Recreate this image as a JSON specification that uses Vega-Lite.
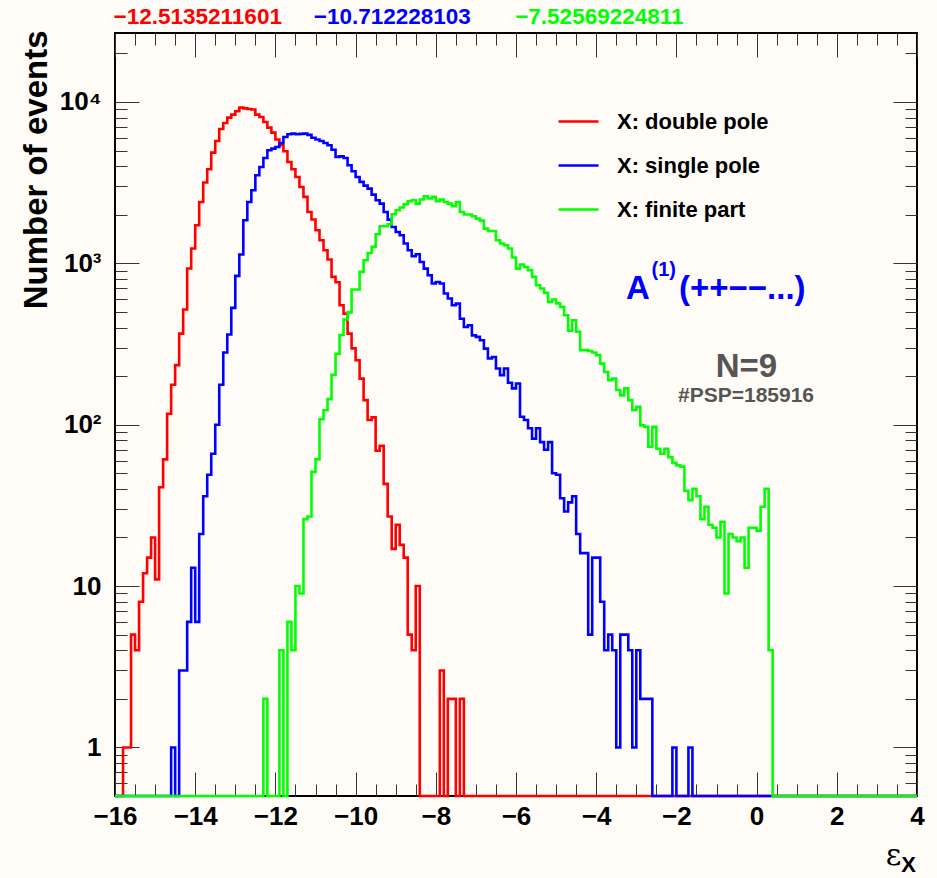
{
  "$schema": "https://vega.github.io/schema/vega-lite/v6.json",
  "width": 802,
  "height": 763,
  "autosize": {"type": "none"},
  "padding": {"left": 115, "top": 33, "right": 20, "bottom": 82},
  "background": "#fffcf8",
  "config": {
    "view": {"stroke": "#000000", "strokeWidth": 2},
    "font": "Liberation Sans",
    "axis": {"grid": false, "domain": false}
  },
  "datasets": {
    "h": [
      {"s":"dp","x":-16,"n":0},{"s":"dp","x":-15.8,"n":1},{"s":"dp","x":-15.7,"n":1},{"s":"dp","x":-15.6,"n":5},{"s":"dp","x":-15.5,"n":4},{"s":"dp","x":-15.4,"n":8},{"s":"dp","x":-15.3,"n":12},{"s":"dp","x":-15.2,"n":15},{"s":"dp","x":-15.1,"n":20},{"s":"dp","x":-15.0,"n":11},{"s":"dp","x":-14.9,"n":41},{"s":"dp","x":-14.8,"n":61},{"s":"dp","x":-14.7,"n":117},{"s":"dp","x":-14.6,"n":177},{"s":"dp","x":-14.5,"n":234},{"s":"dp","x":-14.4,"n":367},{"s":"dp","x":-14.3,"n":517},{"s":"dp","x":-14.2,"n":929},{"s":"dp","x":-14.1,"n":1235},{"s":"dp","x":-14.0,"n":1722},{"s":"dp","x":-13.9,"n":2400},{"s":"dp","x":-13.8,"n":3168},{"s":"dp","x":-13.7,"n":3830},{"s":"dp","x":-13.6,"n":4857},{"s":"dp","x":-13.5,"n":5730},{"s":"dp","x":-13.4,"n":6800},{"s":"dp","x":-13.3,"n":7410},{"s":"dp","x":-13.2,"n":8000},{"s":"dp","x":-13.1,"n":8350},{"s":"dp","x":-13.0,"n":8760},{"s":"dp","x":-12.9,"n":9230},{"s":"dp","x":-12.8,"n":9130},{"s":"dp","x":-12.7,"n":9040},{"s":"dp","x":-12.6,"n":8990},{"s":"dp","x":-12.5,"n":8350},{"s":"dp","x":-12.4,"n":8070},{"s":"dp","x":-12.3,"n":7510},{"s":"dp","x":-12.2,"n":6940},{"s":"dp","x":-12.1,"n":6460},{"s":"dp","x":-12.0,"n":5850},{"s":"dp","x":-11.9,"n":5390},{"s":"dp","x":-11.8,"n":4950},{"s":"dp","x":-11.7,"n":4250},{"s":"dp","x":-11.6,"n":3830},{"s":"dp","x":-11.5,"n":3430},{"s":"dp","x":-11.4,"n":2975},{"s":"dp","x":-11.3,"n":2580},{"s":"dp","x":-11.2,"n":2080},{"s":"dp","x":-11.1,"n":1868},{"s":"dp","x":-11.0,"n":1603},{"s":"dp","x":-10.9,"n":1390},{"s":"dp","x":-10.8,"n":1205},{"s":"dp","x":-10.7,"n":1056},{"s":"dp","x":-10.6,"n":824},{"s":"dp","x":-10.5,"n":764},{"s":"dp","x":-10.4,"n":550},{"s":"dp","x":-10.3,"n":488},{"s":"dp","x":-10.2,"n":367},{"s":"dp","x":-10.1,"n":297},{"s":"dp","x":-10.0,"n":251},{"s":"dp","x":-9.9,"n":193},{"s":"dp","x":-9.8,"n":142},{"s":"dp","x":-9.7,"n":107},{"s":"dp","x":-9.6,"n":111},{"s":"dp","x":-9.5,"n":69},{"s":"dp","x":-9.4,"n":74},{"s":"dp","x":-9.3,"n":43},{"s":"dp","x":-9.2,"n":27},{"s":"dp","x":-9.1,"n":17},{"s":"dp","x":-9.0,"n":24},{"s":"dp","x":-8.9,"n":18},{"s":"dp","x":-8.8,"n":15},{"s":"dp","x":-8.7,"n":5},{"s":"dp","x":-8.6,"n":4},{"s":"dp","x":-8.5,"n":10},{"s":"dp","x":-8.4,"n":0},{"s":"dp","x":-7.9,"n":3},{"s":"dp","x":-7.8,"n":0},{"s":"dp","x":-7.7,"n":2},{"s":"dp","x":-7.6,"n":2},{"s":"dp","x":-7.5,"n":0},{"s":"dp","x":-7.4,"n":2},{"s":"dp","x":-7.3,"n":0},{"s":"dp","x":4,"n":0},

      {"s":"sp","x":-16,"n":0},{"s":"sp","x":-14.6,"n":1},{"s":"sp","x":-14.5,"n":0},{"s":"sp","x":-14.4,"n":3},{"s":"sp","x":-14.3,"n":3},{"s":"sp","x":-14.2,"n":6},{"s":"sp","x":-14.1,"n":13},{"s":"sp","x":-14.0,"n":6},{"s":"sp","x":-13.9,"n":21},{"s":"sp","x":-13.8,"n":36},{"s":"sp","x":-13.7,"n":49},{"s":"sp","x":-13.6,"n":66},{"s":"sp","x":-13.5,"n":100},{"s":"sp","x":-13.4,"n":177},{"s":"sp","x":-13.3,"n":280},{"s":"sp","x":-13.2,"n":362},{"s":"sp","x":-13.1,"n":530},{"s":"sp","x":-13.0,"n":836},{"s":"sp","x":-12.9,"n":1134},{"s":"sp","x":-12.8,"n":1850},{"s":"sp","x":-12.7,"n":2400},{"s":"sp","x":-12.6,"n":2837},{"s":"sp","x":-12.5,"n":3515},{"s":"sp","x":-12.4,"n":3955},{"s":"sp","x":-12.3,"n":4500},{"s":"sp","x":-12.2,"n":5020},{"s":"sp","x":-12.1,"n":5140},{"s":"sp","x":-12.0,"n":5265},{"s":"sp","x":-11.9,"n":5570},{"s":"sp","x":-11.8,"n":6070},{"s":"sp","x":-11.7,"n":6310},{"s":"sp","x":-11.6,"n":6370},{"s":"sp","x":-11.5,"n":6310},{"s":"sp","x":-11.4,"n":6340},{"s":"sp","x":-11.3,"n":6370},{"s":"sp","x":-11.2,"n":6250},{"s":"sp","x":-11.1,"n":6000},{"s":"sp","x":-11.0,"n":5850},{"s":"sp","x":-10.9,"n":5730},{"s":"sp","x":-10.8,"n":5570},{"s":"sp","x":-10.7,"n":5390},{"s":"sp","x":-10.6,"n":5060},{"s":"sp","x":-10.5,"n":4570},{"s":"sp","x":-10.4,"n":4600},{"s":"sp","x":-10.3,"n":4500},{"s":"sp","x":-10.2,"n":4054},{"s":"sp","x":-10.1,"n":3720},{"s":"sp","x":-10.0,"n":3430},{"s":"sp","x":-9.9,"n":3200},{"s":"sp","x":-9.8,"n":3030},{"s":"sp","x":-9.7,"n":2905},{"s":"sp","x":-9.6,"n":2667},{"s":"sp","x":-9.5,"n":2460},{"s":"sp","x":-9.4,"n":2345},{"s":"sp","x":-9.3,"n":2080},{"s":"sp","x":-9.2,"n":1866},{"s":"sp","x":-9.1,"n":1681},{"s":"sp","x":-9.0,"n":1565},{"s":"sp","x":-8.9,"n":1493},{"s":"sp","x":-8.8,"n":1327},{"s":"sp","x":-8.7,"n":1205},{"s":"sp","x":-8.6,"n":1107},{"s":"sp","x":-8.5,"n":1138},{"s":"sp","x":-8.4,"n":1020},{"s":"sp","x":-8.3,"n":928},{"s":"sp","x":-8.2,"n":844},{"s":"sp","x":-8.1,"n":750},{"s":"sp","x":-8.0,"n":767},{"s":"sp","x":-7.9,"n":750},{"s":"sp","x":-7.8,"n":650},{"s":"sp","x":-7.7,"n":605},{"s":"sp","x":-7.6,"n":550},{"s":"sp","x":-7.5,"n":563},{"s":"sp","x":-7.4,"n":454},{"s":"sp","x":-7.3,"n":403},{"s":"sp","x":-7.2,"n":413},{"s":"sp","x":-7.1,"n":358},{"s":"sp","x":-7.0,"n":350},{"s":"sp","x":-6.9,"n":334},{"s":"sp","x":-6.8,"n":296},{"s":"sp","x":-6.7,"n":257},{"s":"sp","x":-6.6,"n":263},{"s":"sp","x":-6.5,"n":223},{"s":"sp","x":-6.4,"n":203},{"s":"sp","x":-6.3,"n":223},{"s":"sp","x":-6.2,"n":182},{"s":"sp","x":-6.1,"n":168},{"s":"sp","x":-6.0,"n":180},{"s":"sp","x":-5.9,"n":112},{"s":"sp","x":-5.8,"n":107},{"s":"sp","x":-5.7,"n":95},{"s":"sp","x":-5.6,"n":82},{"s":"sp","x":-5.5,"n":95},{"s":"sp","x":-5.4,"n":78},{"s":"sp","x":-5.3,"n":70},{"s":"sp","x":-5.2,"n":78},{"s":"sp","x":-5.1,"n":50},{"s":"sp","x":-5.0,"n":49},{"s":"sp","x":-4.9,"n":35},{"s":"sp","x":-4.8,"n":29},{"s":"sp","x":-4.7,"n":33},{"s":"sp","x":-4.6,"n":36},{"s":"sp","x":-4.5,"n":21},{"s":"sp","x":-4.4,"n":16},{"s":"sp","x":-4.3,"n":16},{"s":"sp","x":-4.2,"n":5},{"s":"sp","x":-4.1,"n":15},{"s":"sp","x":-4.0,"n":15},{"s":"sp","x":-3.9,"n":8},{"s":"sp","x":-3.8,"n":4},{"s":"sp","x":-3.7,"n":5},{"s":"sp","x":-3.6,"n":4},{"s":"sp","x":-3.5,"n":1},{"s":"sp","x":-3.4,"n":5},{"s":"sp","x":-3.3,"n":5},{"s":"sp","x":-3.2,"n":4},{"s":"sp","x":-3.1,"n":1},{"s":"sp","x":-3.0,"n":4},{"s":"sp","x":-2.9,"n":2},{"s":"sp","x":-2.8,"n":2},{"s":"sp","x":-2.7,"n":2},{"s":"sp","x":-2.6,"n":0},{"s":"sp","x":-2.1,"n":1},{"s":"sp","x":-2.0,"n":0},{"s":"sp","x":-1.7,"n":1},{"s":"sp","x":-1.6,"n":0},{"s":"sp","x":4,"n":0},

      {"s":"fp","x":-16,"n":0},{"s":"fp","x":-12.3,"n":2},{"s":"fp","x":-12.2,"n":0},{"s":"fp","x":-11.9,"n":4},{"s":"fp","x":-11.8,"n":0},{"s":"fp","x":-11.7,"n":6},{"s":"fp","x":-11.6,"n":4},{"s":"fp","x":-11.5,"n":10},{"s":"fp","x":-11.4,"n":9},{"s":"fp","x":-11.3,"n":26},{"s":"fp","x":-11.2,"n":27},{"s":"fp","x":-11.1,"n":51},{"s":"fp","x":-11.0,"n":61},{"s":"fp","x":-10.9,"n":108},{"s":"fp","x":-10.8,"n":123},{"s":"fp","x":-10.7,"n":144},{"s":"fp","x":-10.6,"n":204},{"s":"fp","x":-10.5,"n":275},{"s":"fp","x":-10.4,"n":360},{"s":"fp","x":-10.3,"n":449},{"s":"fp","x":-10.2,"n":497},{"s":"fp","x":-10.1,"n":688},{"s":"fp","x":-10.0,"n":688},{"s":"fp","x":-9.9,"n":885},{"s":"fp","x":-9.8,"n":1045},{"s":"fp","x":-9.7,"n":1160},{"s":"fp","x":-9.6,"n":1264},{"s":"fp","x":-9.5,"n":1514},{"s":"fp","x":-9.4,"n":1698},{"s":"fp","x":-9.3,"n":1698},{"s":"fp","x":-9.2,"n":1748},{"s":"fp","x":-9.1,"n":2015},{"s":"fp","x":-9.0,"n":2133},{"s":"fp","x":-8.9,"n":2217},{"s":"fp","x":-8.8,"n":2323},{"s":"fp","x":-8.7,"n":2425},{"s":"fp","x":-8.6,"n":2460},{"s":"fp","x":-8.5,"n":2345},{"s":"fp","x":-8.4,"n":2485},{"s":"fp","x":-8.3,"n":2604},{"s":"fp","x":-8.2,"n":2520},{"s":"fp","x":-8.1,"n":2580},{"s":"fp","x":-8.0,"n":2425},{"s":"fp","x":-7.9,"n":2485},{"s":"fp","x":-7.8,"n":2400},{"s":"fp","x":-7.7,"n":2345},{"s":"fp","x":-7.6,"n":2259},{"s":"fp","x":-7.5,"n":2400},{"s":"fp","x":-7.4,"n":2080},{"s":"fp","x":-7.3,"n":2006},{"s":"fp","x":-7.2,"n":2006},{"s":"fp","x":-7.1,"n":1960},{"s":"fp","x":-7.0,"n":1894},{"s":"fp","x":-6.9,"n":1840},{"s":"fp","x":-6.8,"n":1640},{"s":"fp","x":-6.7,"n":1588},{"s":"fp","x":-6.6,"n":1588},{"s":"fp","x":-6.5,"n":1390},{"s":"fp","x":-6.4,"n":1327},{"s":"fp","x":-6.3,"n":1295},{"s":"fp","x":-6.2,"n":1235},{"s":"fp","x":-6.1,"n":1086},{"s":"fp","x":-6.0,"n":928},{"s":"fp","x":-5.9,"n":983},{"s":"fp","x":-5.8,"n":950},{"s":"fp","x":-5.7,"n":906},{"s":"fp","x":-5.6,"n":824},{"s":"fp","x":-5.5,"n":731},{"s":"fp","x":-5.4,"n":698},{"s":"fp","x":-5.3,"n":656},{"s":"fp","x":-5.2,"n":576},{"s":"fp","x":-5.1,"n":597},{"s":"fp","x":-5.0,"n":565},{"s":"fp","x":-4.9,"n":537},{"s":"fp","x":-4.8,"n":477},{"s":"fp","x":-4.7,"n":383},{"s":"fp","x":-4.6,"n":444},{"s":"fp","x":-4.5,"n":377},{"s":"fp","x":-4.4,"n":290},{"s":"fp","x":-4.3,"n":290},{"s":"fp","x":-4.2,"n":286},{"s":"fp","x":-4.1,"n":280},{"s":"fp","x":-4.0,"n":270},{"s":"fp","x":-3.9,"n":239},{"s":"fp","x":-3.8,"n":212},{"s":"fp","x":-3.7,"n":189},{"s":"fp","x":-3.6,"n":193},{"s":"fp","x":-3.5,"n":164},{"s":"fp","x":-3.4,"n":152},{"s":"fp","x":-3.3,"n":168},{"s":"fp","x":-3.2,"n":142},{"s":"fp","x":-3.1,"n":123},{"s":"fp","x":-3.0,"n":129},{"s":"fp","x":-2.9,"n":99},{"s":"fp","x":-2.8,"n":97},{"s":"fp","x":-2.7,"n":73},{"s":"fp","x":-2.6,"n":97},{"s":"fp","x":-2.5,"n":71},{"s":"fp","x":-2.4,"n":66},{"s":"fp","x":-2.3,"n":71},{"s":"fp","x":-2.2,"n":63},{"s":"fp","x":-2.1,"n":58},{"s":"fp","x":-2.0,"n":56},{"s":"fp","x":-1.9,"n":55},{"s":"fp","x":-1.8,"n":39},{"s":"fp","x":-1.7,"n":34},{"s":"fp","x":-1.6,"n":40},{"s":"fp","x":-1.5,"n":36},{"s":"fp","x":-1.4,"n":26},{"s":"fp","x":-1.3,"n":31},{"s":"fp","x":-1.2,"n":24},{"s":"fp","x":-1.1,"n":23},{"s":"fp","x":-1.0,"n":20},{"s":"fp","x":-0.9,"n":25},{"s":"fp","x":-0.8,"n":9},{"s":"fp","x":-0.7,"n":21},{"s":"fp","x":-0.6,"n":20},{"s":"fp","x":-0.5,"n":19},{"s":"fp","x":-0.4,"n":20},{"s":"fp","x":-0.3,"n":13},{"s":"fp","x":-0.2,"n":23},{"s":"fp","x":-0.1,"n":23},{"s":"fp","x":0.0,"n":22},{"s":"fp","x":0.1,"n":31},{"s":"fp","x":0.2,"n":40},{"s":"fp","x":0.3,"n":4},{"s":"fp","x":0.4,"n":0},{"s":"fp","x":4,"n":0}
    ]
  },
  "resolve": {"axis": {"x": "independent", "y": "independent"}},
  "layer": [
    {
      "data": {"name": "h"},
      "transform": [{"filter": "datum.s == 'dp'"}, {"calculate": "datum.n > 0 ? datum.n : 0.5", "as": "y"}],
      "mark": {"type": "line", "interpolate": "step-after", "strokeWidth": 2.6},
      "encoding": {
        "x": {"field": "x", "type": "quantitative", "scale": {"domain": [-16, 4], "nice": false, "zero": false},
          "axis": {"orient": "bottom", "values": [-16,-14,-12,-10,-8,-6,-4,-2,0,2,4], "ticks": false, "domain": false, "labels": true, "labelFlush": false, "labelOverlap": false,
            "labelFont": "Liberation Sans", "labelFontWeight": "bold", "labelFontSize": 26, "labelColor": "#000000", "labelPadding": 7, "title": null}},
        "y": {"field": "y", "type": "quantitative", "scale": {"type": "log", "domain": [0.5, 26760], "nice": false},
          "axis": {"orient": "left", "values": [1,10,100,1000,10000], "ticks": false, "domain": false, "labelFlush": false, "labelOverlap": false,
            "labelExpr": "datum.value == 10000 ? '10⁴' : datum.value == 1000 ? '10³' : datum.value == 100 ? '10²' : datum.value == 10 ? '10' : '1'",
            "labelFont": "Liberation Sans", "labelFontWeight": "bold", "labelFontSize": 26, "labelColor": "#000000", "labelPadding": 14,
            "title": "Number of events", "titleFont": "Liberation Sans", "titleFontWeight": "bold", "titleFontSize": 33, "titleColor": "#000000",
            "titleAngle": 270, "titleAlign": "right", "titleBaseline": "middle", "titleX": -79, "titleY": -3}},
        "color": {"field": "s", "type": "nominal",
          "scale": {"domain": ["dp", "sp", "fp"], "range": ["#ff0000", "#0000ff", "#00ff00"]},
          "legend": {"orient": "none", "legendX": 442, "legendY": 67, "title": null, "padding": 0,
            "symbolType": "stroke", "symbolSize": 1600, "symbolStrokeWidth": 2.6,
            "labelExpr": "datum.label == 'dp' ? 'X: double pole' : datum.label == 'sp' ? 'X: single pole' : 'X: finite part'",
            "labelFont": "Liberation Sans", "labelFontWeight": "bold", "labelFontSize": 22, "labelColor": "#000000", "labelOffset": 17, "rowPadding": 11}}
      }
    },
    {
      "data": {"name": "h"},
      "transform": [{"filter": "datum.s == 'sp'"}, {"calculate": "datum.n > 0 ? datum.n : 0.5", "as": "y"}],
      "mark": {"type": "line", "interpolate": "step-after", "strokeWidth": 2.6},
      "encoding": {
        "x": {"field": "x", "type": "quantitative",
          "axis": {"orient": "bottom", "values": [-16,-15.5,-15,-14.5,-14,-13.5,-13,-12.5,-12,-11.5,-11,-10.5,-10,-9.5,-9,-8.5,-8,-7.5,-7,-6.5,-6,-5.5,-5,-4.5,-4,-3.5,-3,-2.5,-2,-1.5,-1,-0.5,0,0.5,1,1.5,2,2.5,3,3.5,4],
            "labels": false, "domain": false, "ticks": true, "tickColor": "#333333", "tickWidth": 1,
            "tickSize": {"condition": {"test": "datum.value % 2 == 0", "value": -24}, "value": -12}, "title": null}},
        "y": {"field": "y", "type": "quantitative",
          "axis": {"orient": "left", "values": [0.6,0.7,0.8,0.9,1,2,3,4,5,6,7,8,9,10,20,30,40,50,60,70,80,90,100,200,300,400,500,600,700,800,900,1000,2000,3000,4000,5000,6000,7000,8000,9000,10000,20000],
            "labels": false, "domain": false, "ticks": true, "tickColor": "#333333", "tickWidth": 1,
            "tickSize": {"condition": {"test": "indexof([1,10,100,1000,10000], datum.value) >= 0", "value": -24}, "value": -12}, "title": null}},
        "color": {"field": "s", "type": "nominal"}
      }
    },
    {
      "data": {"name": "h"},
      "transform": [{"filter": "datum.s == 'fp'"}, {"calculate": "datum.n > 0 ? datum.n : 0.5", "as": "y"}],
      "mark": {"type": "line", "interpolate": "step-after", "strokeWidth": 2.6},
      "encoding": {
        "x": {"field": "x", "type": "quantitative",
          "axis": {"orient": "top", "values": [-16,-15.5,-15,-14.5,-14,-13.5,-13,-12.5,-12,-11.5,-11,-10.5,-10,-9.5,-9,-8.5,-8,-7.5,-7,-6.5,-6,-5.5,-5,-4.5,-4,-3.5,-3,-2.5,-2,-1.5,-1,-0.5,0,0.5,1,1.5,2,2.5,3,3.5,4],
            "labels": false, "domain": false, "ticks": true, "tickColor": "#333333", "tickWidth": 1,
            "tickSize": {"condition": {"test": "datum.value % 2 == 0", "value": -24}, "value": -12}, "title": null}},
        "y": {"field": "y", "type": "quantitative",
          "axis": {"orient": "right", "values": [0.6,0.7,0.8,0.9,1,2,3,4,5,6,7,8,9,10,20,30,40,50,60,70,80,90,100,200,300,400,500,600,700,800,900,1000,2000,3000,4000,5000,6000,7000,8000,9000,10000,20000],
            "labels": false, "domain": false, "ticks": true, "tickColor": "#333333", "tickWidth": 1,
            "tickSize": {"condition": {"test": "indexof([1,10,100,1000,10000], datum.value) >= 0", "value": -24}, "value": -12}, "title": null}},
        "color": {"field": "s", "type": "nominal"}
      }
    },
    {
      "data": {"values": [{"x": -16.035, "y": 30300, "t": "−12.5135211601"}]},
      "mark": {"type": "text", "align": "left", "baseline": "alphabetic", "fontSize": 22.5, "fontWeight": "bold", "font": "Liberation Sans", "color": "#ff0000"},
      "encoding": {"x": {"field": "x", "type": "quantitative", "axis": null}, "y": {"field": "y", "type": "quantitative", "axis": null}, "text": {"field": "t"}}
    },
    {
      "data": {"values": [{"x": -11.042, "y": 30300, "t": "−10.712228103"}]},
      "mark": {"type": "text", "align": "left", "baseline": "alphabetic", "fontSize": 22.5, "fontWeight": "bold", "font": "Liberation Sans", "color": "#0000ff"},
      "encoding": {"x": {"field": "x", "type": "quantitative", "axis": null}, "y": {"field": "y", "type": "quantitative", "axis": null}, "text": {"field": "t"}}
    },
    {
      "data": {"values": [{"x": -6.02, "y": 30300, "t": "−7.52569224811"}]},
      "mark": {"type": "text", "align": "left", "baseline": "alphabetic", "fontSize": 22.5, "fontWeight": "bold", "font": "Liberation Sans", "color": "#00ff00"},
      "encoding": {"x": {"field": "x", "type": "quantitative", "axis": null}, "y": {"field": "y", "type": "quantitative", "axis": null}, "text": {"field": "t"}}
    },
    {
      "data": {"values": [{"x": -3.257, "y": 599, "t": "A"}, {"x": -1.935, "y": 599, "t": "(++−−...)"}]},
      "mark": {"type": "text", "align": "left", "baseline": "alphabetic", "fontSize": 33, "fontWeight": "bold", "font": "Liberation Sans", "color": "#0000ff"},
      "encoding": {"x": {"field": "x", "type": "quantitative", "axis": null}, "y": {"field": "y", "type": "quantitative", "axis": null}, "text": {"field": "t"}}
    },
    {
      "data": {"values": [{"x": -2.62, "y": 832, "t": "(1)"}]},
      "mark": {"type": "text", "align": "left", "baseline": "alphabetic", "fontSize": 20, "fontWeight": "bold", "font": "Liberation Sans", "color": "#0000ff"},
      "encoding": {"x": {"field": "x", "type": "quantitative", "axis": null}, "y": {"field": "y", "type": "quantitative", "axis": null}, "text": {"field": "t"}}
    },
    {
      "data": {"values": [{"x": -0.252, "y": 198, "t": "N=9"}]},
      "mark": {"type": "text", "align": "center", "baseline": "alphabetic", "fontSize": 33, "fontWeight": "bold", "font": "Liberation Sans", "color": "#555555"},
      "encoding": {"x": {"field": "x", "type": "quantitative", "axis": null}, "y": {"field": "y", "type": "quantitative", "axis": null}, "text": {"field": "t"}}
    },
    {
      "data": {"values": [{"x": -0.264, "y": 138.4, "t": "#PSP=185916"}]},
      "mark": {"type": "text", "align": "center", "baseline": "alphabetic", "fontSize": 21, "fontWeight": "bold", "font": "Liberation Sans", "color": "#555555"},
      "encoding": {"x": {"field": "x", "type": "quantitative", "axis": null}, "y": {"field": "y", "type": "quantitative", "axis": null}, "text": {"field": "t"}}
    },
    {
      "data": {"values": [{"x": 3.414, "y": 0.1866, "t": "ε"}]},
      "mark": {"type": "text", "align": "center", "baseline": "alphabetic", "fontSize": 30, "font": "DejaVu Serif", "color": "#000000"},
      "encoding": {"x": {"field": "x", "type": "quantitative", "axis": null}, "y": {"field": "y", "type": "quantitative", "axis": null}, "text": {"field": "t"}}
    },
    {
      "data": {"values": [{"x": 3.788, "y": 0.169, "t": "X"}]},
      "mark": {"type": "text", "align": "center", "baseline": "alphabetic", "fontSize": 22, "fontWeight": "bold", "font": "Liberation Sans", "color": "#000000"},
      "encoding": {"x": {"field": "x", "type": "quantitative", "axis": null}, "y": {"field": "y", "type": "quantitative", "axis": null}, "text": {"field": "t"}}
    }
  ]
}
